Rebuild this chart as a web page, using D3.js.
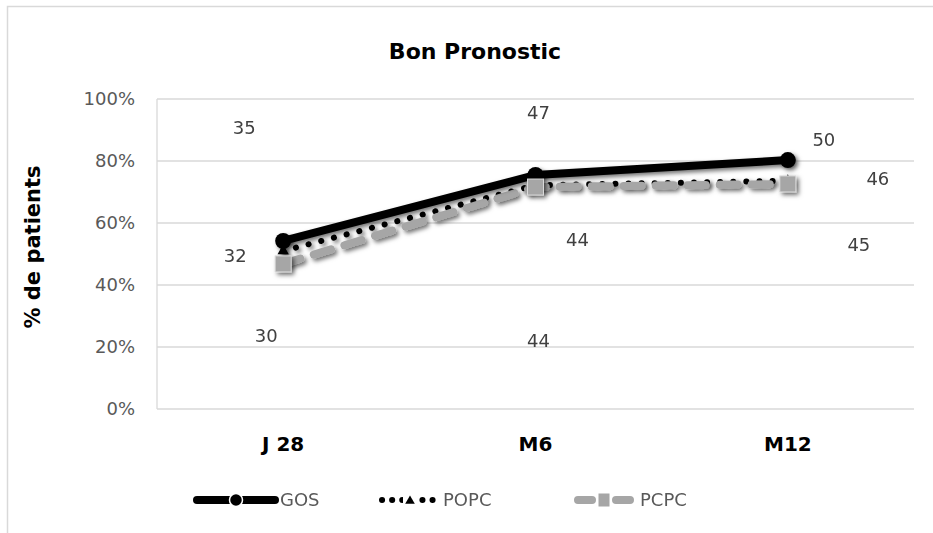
<!DOCTYPE html>
<html>
<head>
<meta charset="utf-8">
<script src="https://cdn.jsdelivr.net/npm/d3@7"></script>
<style>
  body { margin: 0; background: #fff; }
  svg text { font-family: "DejaVu Sans", sans-serif; }
</style>
</head>
<body>
<svg id="chart" width="933" height="533"></svg>
<script>
const categories = ['J 28', 'M6', 'M12'];
const gos  = [54.2, 75.5, 80.3];
const popc = [51.0, 72.2, 73.6];
const pcpc = [46.8, 71.6, 72.6];
const yTicks = [0, 20, 40, 60, 80, 100];
// nombres de patients, avec leur place (categorie, decalage px, % sur l'axe)
const nLabels = ['35', '32', '30', '47', '44', '44', '50', '46', '45'];
const nCat    = [0, 0, 0, 1, 1, 1, 2, 2, 2];
const nDx     = [-39, -48, -17, 3, 42, 3, 36, 90, 71];
const nY      = [90.6, 49.4, 23.5, 95.5, 54.5, 21.9, 86.8, 74.2, 52.9];

const svg = d3.select('#chart');

const defs = svg.append('defs');
const f = defs.append('filter').attr('id', 'ombre')
    .attr('x', '-30%').attr('y', '-30%').attr('width', '160%').attr('height', '160%');
f.append('feDropShadow').attr('dx', 2.5).attr('dy', 2.5).attr('stdDeviation', 2)
    .attr('flood-color', '#000').attr('flood-opacity', 0.55);

// cadre
svg.append('rect').attr('x', 7.5).attr('y', 6.5).attr('width', 940).attr('height', 540)
    .attr('fill', 'none').attr('stroke', '#d9d9d9').attr('stroke-width', 1.5);

const pLeft = 157, pRight = 914, pTop = 99, pBottom = 409;

const x = d3.scaleBand().domain(categories).range([pLeft, pRight]);
const y = d3.scaleLinear().domain([0, 100]).range([pBottom, pTop]);
const cx = d => x(d) + x.bandwidth() / 2;

// grille
svg.append('g').selectAll('line').data(yTicks).join('line')
    .attr('x1', pLeft).attr('x2', pRight)
    .attr('y1', d => y(d)).attr('y2', d => y(d))
    .attr('stroke', '#d9d9d9').attr('stroke-width', 1.3);
svg.append('line').attr('x1', pLeft).attr('x2', pLeft).attr('y1', pTop).attr('y2', pBottom)
    .attr('stroke', '#d9d9d9').attr('stroke-width', 1.3);

let yAxis = d3.axisLeft(y).tickValues(yTicks).tickFormat(d => d + '%').tickSize(0).tickPadding(22);
let gy = svg.append('g').attr('transform', 'translate(' + pLeft + ',0)').call(yAxis);
gy.select('.domain').remove();
gy.selectAll('text').attr('font-size', 18).attr('fill', '#595959');

let xAxis = d3.axisBottom(x).tickSize(0).tickPadding(28);
let gx = svg.append('g').attr('transform', 'translate(0,' + pBottom + ')').call(xAxis);
gx.select('.domain').remove();
gx.selectAll('text').attr('font-size', 20).attr('font-weight', 'bold').attr('fill', '#000');

// titres
svg.append('text').attr('x', 475).attr('y', 59).attr('text-anchor', 'middle')
    .attr('font-size', 22).attr('font-weight', 'bold').text('Bon Pronostic');
svg.append('text').attr('transform', 'translate(40,247) rotate(-90)').attr('text-anchor', 'middle')
    .attr('font-size', 21).attr('font-weight', 'bold').text('% de patients');

const line = d3.line().x((d, i) => cx(categories[i])).y(d => y(d));

const series = [
  { name: 'GOS', data: gos, color: '#000', width: 8, dash: null, cap: 'round', marker: 'circle' },
  { name: 'POPC', data: popc, color: '#000', width: 6, dash: '0.1 13', cap: 'round', marker: 'triangle' },
  { name: 'PCPC', data: pcpc, color: '#a6a6a6', width: 8, dash: '18 14', cap: 'round', marker: 'square' }
];

function marker(g, kind, px, py, color) {
  if (kind === 'circle') {
    g.append('circle').attr('cx', px).attr('cy', py).attr('r', 8).attr('fill', '#000');
  } else if (kind === 'triangle') {
    g.append('path').attr('d', d3.symbol(d3.symbolTriangle, 55)()).attr('transform', 'translate(' + px + ',' + py + ')')
        .attr('fill', '#000');
  } else {
    g.append('rect').attr('x', px - 8).attr('y', py - 8).attr('width', 16).attr('height', 16)
        .attr('fill', '#a6a6a6').attr('stroke', '#d9d9d9').attr('stroke-width', 1);
  }
}

// ordre de dessin: PCPC en dessous, GOS au dessus
const drawOrder = [1, 2, 0];
drawOrder.forEach(k => {
  const s = series[k];
  svg.append('path').datum(s.data).attr('d', line)
      .attr('fill', 'none').attr('stroke', s.color).attr('stroke-width', s.width)
      .attr('stroke-dasharray', s.dash).attr('stroke-linecap', s.cap)
      .attr('filter', 'url(#ombre)');
});
[0, 1, 2].forEach(k => {
  const s = series[k];
  const g = svg.append('g').attr('filter', 'url(#ombre)');
  s.data.forEach((v, i) => marker(g, s.marker, cx(categories[i]), y(v), s.color));
});

// etiquettes n
svg.append('g').selectAll('text').data(nLabels).join('text')
    .attr('x', (d, i) => cx(categories[nCat[i]]) + nDx[i])
    .attr('y', (d, i) => y(nY[i]))
    .attr('dy', '0.35em').attr('text-anchor', 'middle')
    .attr('font-size', 18).attr('fill', '#404040')
    .text(d => d);

// legende
const legX = [197, 382, 578];
const legW = [78, 56, 52];
const lg = svg.append('g');
series.forEach((s, i) => {
  const g = lg.append('g');
  const y0 = 500;
  g.append('line').attr('x1', legX[i]).attr('x2', legX[i] + legW[i]).attr('y1', y0).attr('y2', y0)
      .attr('stroke', s.color).attr('stroke-width', s.width)
      .attr('stroke-dasharray', s.name === 'POPC' ? '0.1 10' : (s.name === 'PCPC' ? '14 24' : null))
      .attr('stroke-linecap', s.cap);
  if (s.marker === 'circle') {
    g.append('circle').attr('cx', legX[i] + legW[i] / 2).attr('cy', y0).attr('r', 6.5)
        .attr('fill', '#000').attr('stroke', '#fff').attr('stroke-width', 1.5);
  } else if (s.marker === 'triangle') {
    g.append('rect').attr('x', legX[i] + legW[i] / 2 - 7).attr('y', y0 - 8).attr('width', 14).attr('height', 16).attr('fill', '#fff');
    g.append('path').attr('d', d3.symbol(d3.symbolTriangle, 40)())
        .attr('transform', 'translate(' + (legX[i] + legW[i] / 2) + ',' + (y0 + 1) + ')').attr('fill', '#000');
  } else {
    g.append('rect').attr('x', legX[i] + legW[i] / 2 - 5.5).attr('y', y0 - 6.5).attr('width', 11).attr('height', 13)
        .attr('fill', '#a6a6a6');
  }
  g.append('text').attr('x', legX[i] + legW[i] + (s.name === 'PCPC' ? 10 : 5)).attr('y', y0).attr('dy', '0.35em')
      .attr('font-size', 18).attr('fill', '#595959').text(s.name);
});
</script>
</body>
</html>
